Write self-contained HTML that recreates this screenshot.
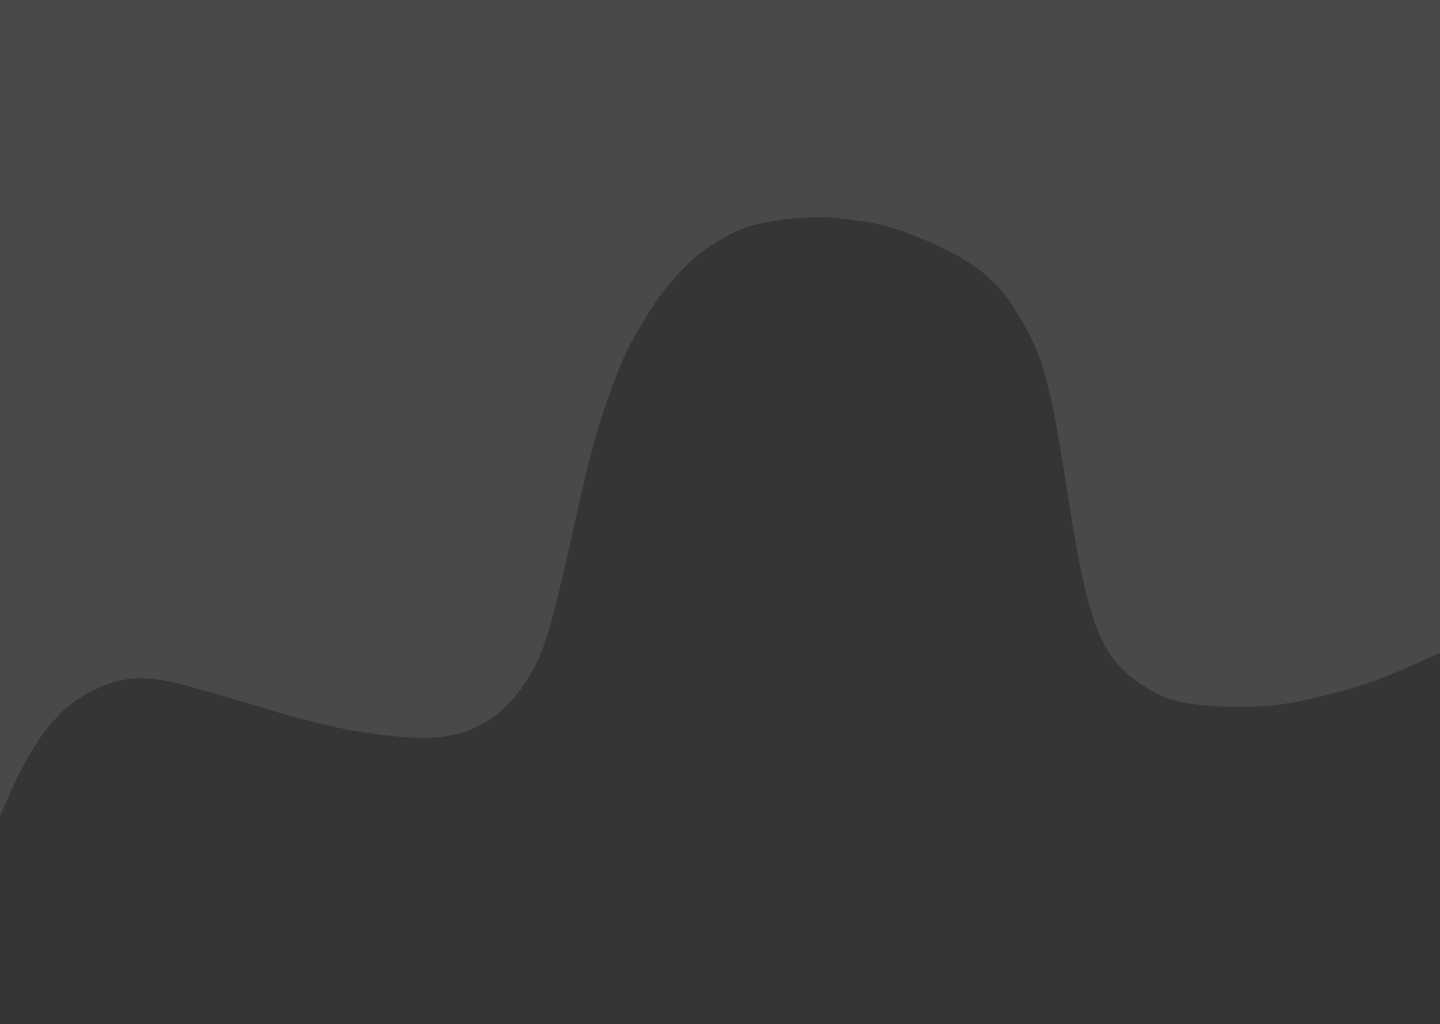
<!DOCTYPE html>
<html lang="en">
<head>
<meta charset="utf-8">
<title>Area chart</title>
<style>
  html, body { margin: 0; padding: 0; width: 1440px; height: 1024px; overflow: hidden; background: #494949; }
  #chart { display: block; width: 1440px; height: 1024px; }
</style>
</head>
<body>
<svg id="chart" xmlns="http://www.w3.org/2000/svg" width="1440" height="1024" viewBox="0 0 1440 1024">
  <rect x="0" y="0" width="1440" height="1024" fill="#494949"></rect>
  <path id="area" fill="#353535" stroke="none"></path>
</svg>
<script>
// Sample positions along the horizontal domain (0-720).
const categories = [0, 9.5, 19, 30, 36.5, 45, 53.5, 61.5, 71, 84, 115, 143.5, 172, 191.5, 210.5, 229.5, 245, 256.5, 266, 274, 280, 286.5, 291.5, 296.5, 303.5, 311.5, 317.5, 323.5, 330, 338.5, 348.5, 360, 371.5, 381.5, 390, 408.5, 426.5, 443.5, 460, 476.5, 490, 500, 506.5, 515, 523.5, 528.5, 532.5, 536, 540, 543.5, 546, 550, 556.5, 565, 573.5, 581.5, 590, 600, 617.5, 638.5, 663.5, 688.5, 720];
// Series values (domain 0-1024).
const seriesValues = [208, 251, 284, 311, 322, 332, 340, 344.5, 346, 343, 326, 309, 295, 289, 286, 290, 304, 324, 351, 384, 437, 491, 541, 581, 624, 667, 689, 709, 729, 749, 769, 784, 796, 801, 804, 807, 804, 798, 786, 771, 754, 736, 719, 689, 651, 601, 547, 501, 447, 424, 404, 384, 364, 347, 336, 327, 322, 319, 317, 319, 329, 344, 371];

const WIDTH = 1440;
const HEIGHT = 1024;
const X_MAX = 720;
const Y_MAX = 1024;
const STEP = 2;
const SIGMA = 9;

function xScale(v) { return v / X_MAX * WIDTH; }
function yScale(v) { return HEIGHT - v / Y_MAX * HEIGHT; }

// Evaluate a Catmull-Rom style cubic through the data at a domain position.
function curveAt(t) {
  const n = categories.length;
  let i = 0;
  while (i < n - 2 && categories[i + 1] < t) i++;
  const x1 = categories[i], x2 = categories[i + 1];
  const y1 = seriesValues[i], y2 = seriesValues[i + 1];
  const a = Math.max(i - 1, 0), b = Math.min(i + 2, n - 1);
  const m1 = (y2 - seriesValues[a]) / (x2 - categories[a]);
  const m2 = (seriesValues[b] - y1) / (categories[b] - x1);
  const h = x2 - x1, s = (t - x1) / h;
  const s2 = s * s, s3 = s2 * s;
  return (2 * s3 - 3 * s2 + 1) * y1 + (s3 - 2 * s2 + s) * h * m1 +
         (-2 * s3 + 3 * s2) * y2 + (s3 - s2) * h * m2;
}

// Resample on a regular grid and low-pass it so the outline reads as one smooth curve.
function smoothedOutline() {
  const tMax = categories[categories.length - 1];
  const raw = [];
  for (let t = 0; t <= tMax + 1e-6; t += STEP / 2) raw.push(curveAt(Math.min(t, tMax)));
  const last = raw.length - 1;
  const sample = function (k) {
    if (k < 0) return 2 * raw[0] - raw[-k];
    if (k > last) return 2 * raw[last] - raw[2 * last - k];
    return raw[k];
  };
  const radius = Math.ceil(SIGMA * 3 / STEP);
  const sigmaSteps = SIGMA / STEP;
  const out = [];
  for (let k = 0; k <= last; k++) {
    let sum = 0, weight = 0;
    for (let j = -radius; j <= radius; j++) {
      const w = Math.exp(-j * j / (2 * sigmaSteps * sigmaSteps));
      sum += w * sample(k + j);
      weight += w;
    }
    out.push([xScale(k * STEP / 2), yScale(sum / weight)]);
  }
  return out;
}

const outline = smoothedOutline();
const baseline = yScale(0);
let areaPath = 'M' + outline.map(function (p) { return p[0].toFixed(1) + ',' + p[1].toFixed(2); }).join('L');
areaPath += 'L' + xScale(X_MAX).toFixed(2) + ',' + baseline.toFixed(2) + 'L' + xScale(0).toFixed(2) + ',' + baseline.toFixed(2) + 'Z';
document.getElementById('area').setAttribute('d', areaPath);
</script>
</body>
</html>
